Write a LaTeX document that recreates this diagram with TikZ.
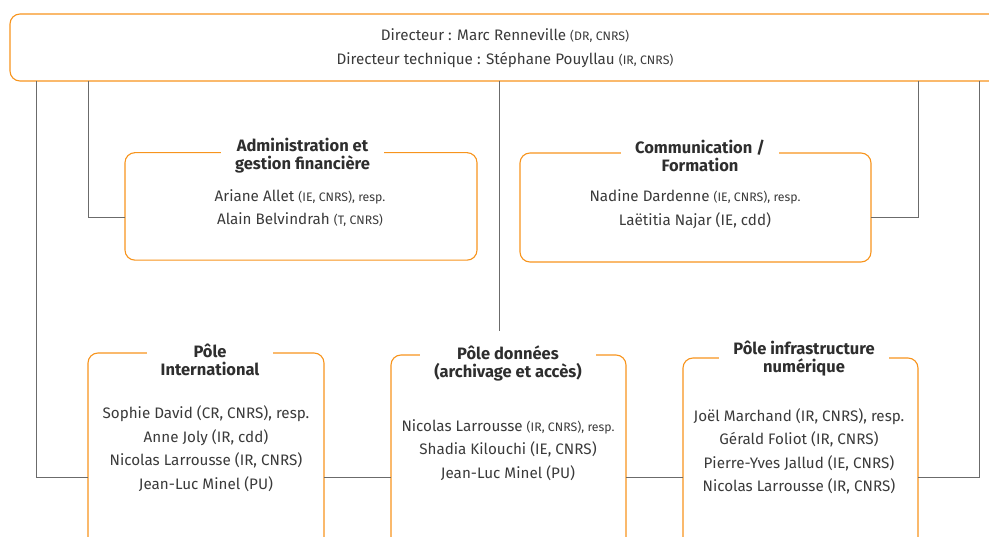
\documentclass[tikz,border=0pt]{standalone}
\usepackage{fontspec}
\setmainfont{Fira Sans}
\usetikzlibrary{positioning}
\definecolor{orangeb}{HTML}{F7941D}
\definecolor{gristxt}{HTML}{3A3A3A}
\definecolor{grislien}{HTML}{6B6B6B}
\newcommand{\petit}[1]{{\fontsize{12.3}{14}\selectfont #1}}
\tikzset{
  cadre/.style={draw=orangeb, line width=1.1pt, rounded corners=10pt, outer sep=0pt, inner sep=0pt},
  titre/.style={fill=white, align=center, font=\bfseries\fontsize{16.5}{18}\selectfont, text=gristxt!80!black, inner xsep=14pt, inner ysep=0pt},
  corps/.style={align=center, font=\fontsize{15.2}{23.5}\selectfont, text=gristxt},
  lien/.style={draw=grislien, line width=0.8pt}
}
\begin{document}
\begin{tikzpicture}[x=1pt, y=-1pt]
\useasboundingbox (0,0) rectangle (989,537);
\clip (0,0) rectangle (989,537);
% direction
\node[cadre, minimum width=990pt, minimum height=67pt] (dir) at (505,47.5) {};
\node[corps] (dirtxt) at (505,48) {Directeur : Marc Renneville \petit{(DR, CNRS)}\\Directeur technique : Stéphane Pouyllau \petit{(IR, CNRS)}};
% services
\node[cadre, minimum width=352pt, minimum height=107.5pt] (admin) at (301,206.4) {};
\node[cadre, minimum width=351pt, minimum height=109pt] (comm) at (695.5,207.5) {};
% poles
\node[cadre, minimum width=236pt, minimum height=249pt] (intl) at (206,477.5) {};
\node[cadre, minimum width=235pt, minimum height=245pt] (donnees) at (508.5,477.5) {};
\node[cadre, minimum width=235pt, minimum height=239pt] (infra) at (800.5,477.5) {};
% liens
\coordinate (xa) at (36,0);
\coordinate (xb) at (88,0);
\coordinate (xc) at (499,0);
\coordinate (xd) at (918,0);
\coordinate (xe) at (979,0);
\coordinate (milieu) at (499,331);
\draw[lien] (dir.south -| xa) |- (intl.west);
\draw[lien] (dir.south -| xb) |- ([yshift=-10.6pt]admin.west);
\draw[lien] (dir.south -| xc) -- (milieu);
\draw[lien] (dir.south -| xd) |- ([yshift=-9.5pt]comm.east);
\draw[lien] (dir.south -| xe) |- (infra.east);
\draw[lien] (intl.east) -- (donnees.west);
\draw[lien] (donnees.east) -- (infra.west);
% titres
\node[titre] (admintit) at (302.5,155.5) {Administration et\\gestion financière};
\node[titre] (commtit) at (700,155.5) {Communication /\\Formation};
\node[titre] (intltit) at (210,359.5) {Pôle\\International};
\node[titre] (donneestit) at (508,363.5) {Pôle données\\(archivage et accès)};
\node[titre] (infratit) at (804,359) {Pôle infrastructure\\numérique};
% membres
\node[corps] (admintxt) at (300,208) {Ariane Allet \petit{(IE, CNRS), resp.}\\Alain Belvindrah \petit{(T, CNRS)}};
\node[corps] (commtxt) at (695,209) {Nadine Dardenne \petit{(IE, CNRS), resp.}\\Laëtitia Najar (IE, cdd)};
\node[corps] (intltxt) at (206,448.5) {Sophie David (CR, CNRS), resp.\\Anne Joly (IR, cdd)\\Nicolas Larrousse (IR, CNRS)\\Jean-Luc Minel (PU)};
\node[corps] (donneestxt) at (508,450) {Nicolas Larrousse \petit{(IR, CNRS), resp.}\\Shadia Kilouchi (IE, CNRS)\\Jean-Luc Minel (PU)};
\node[corps] (infratxt) at (799,451.5) {Joël Marchand (IR, CNRS), resp.\\Gérald Foliot (IR, CNRS)\\Pierre-Yves Jallud (IE, CNRS)\\Nicolas Larrousse (IR, CNRS)};
\end{tikzpicture}
\end{document}
